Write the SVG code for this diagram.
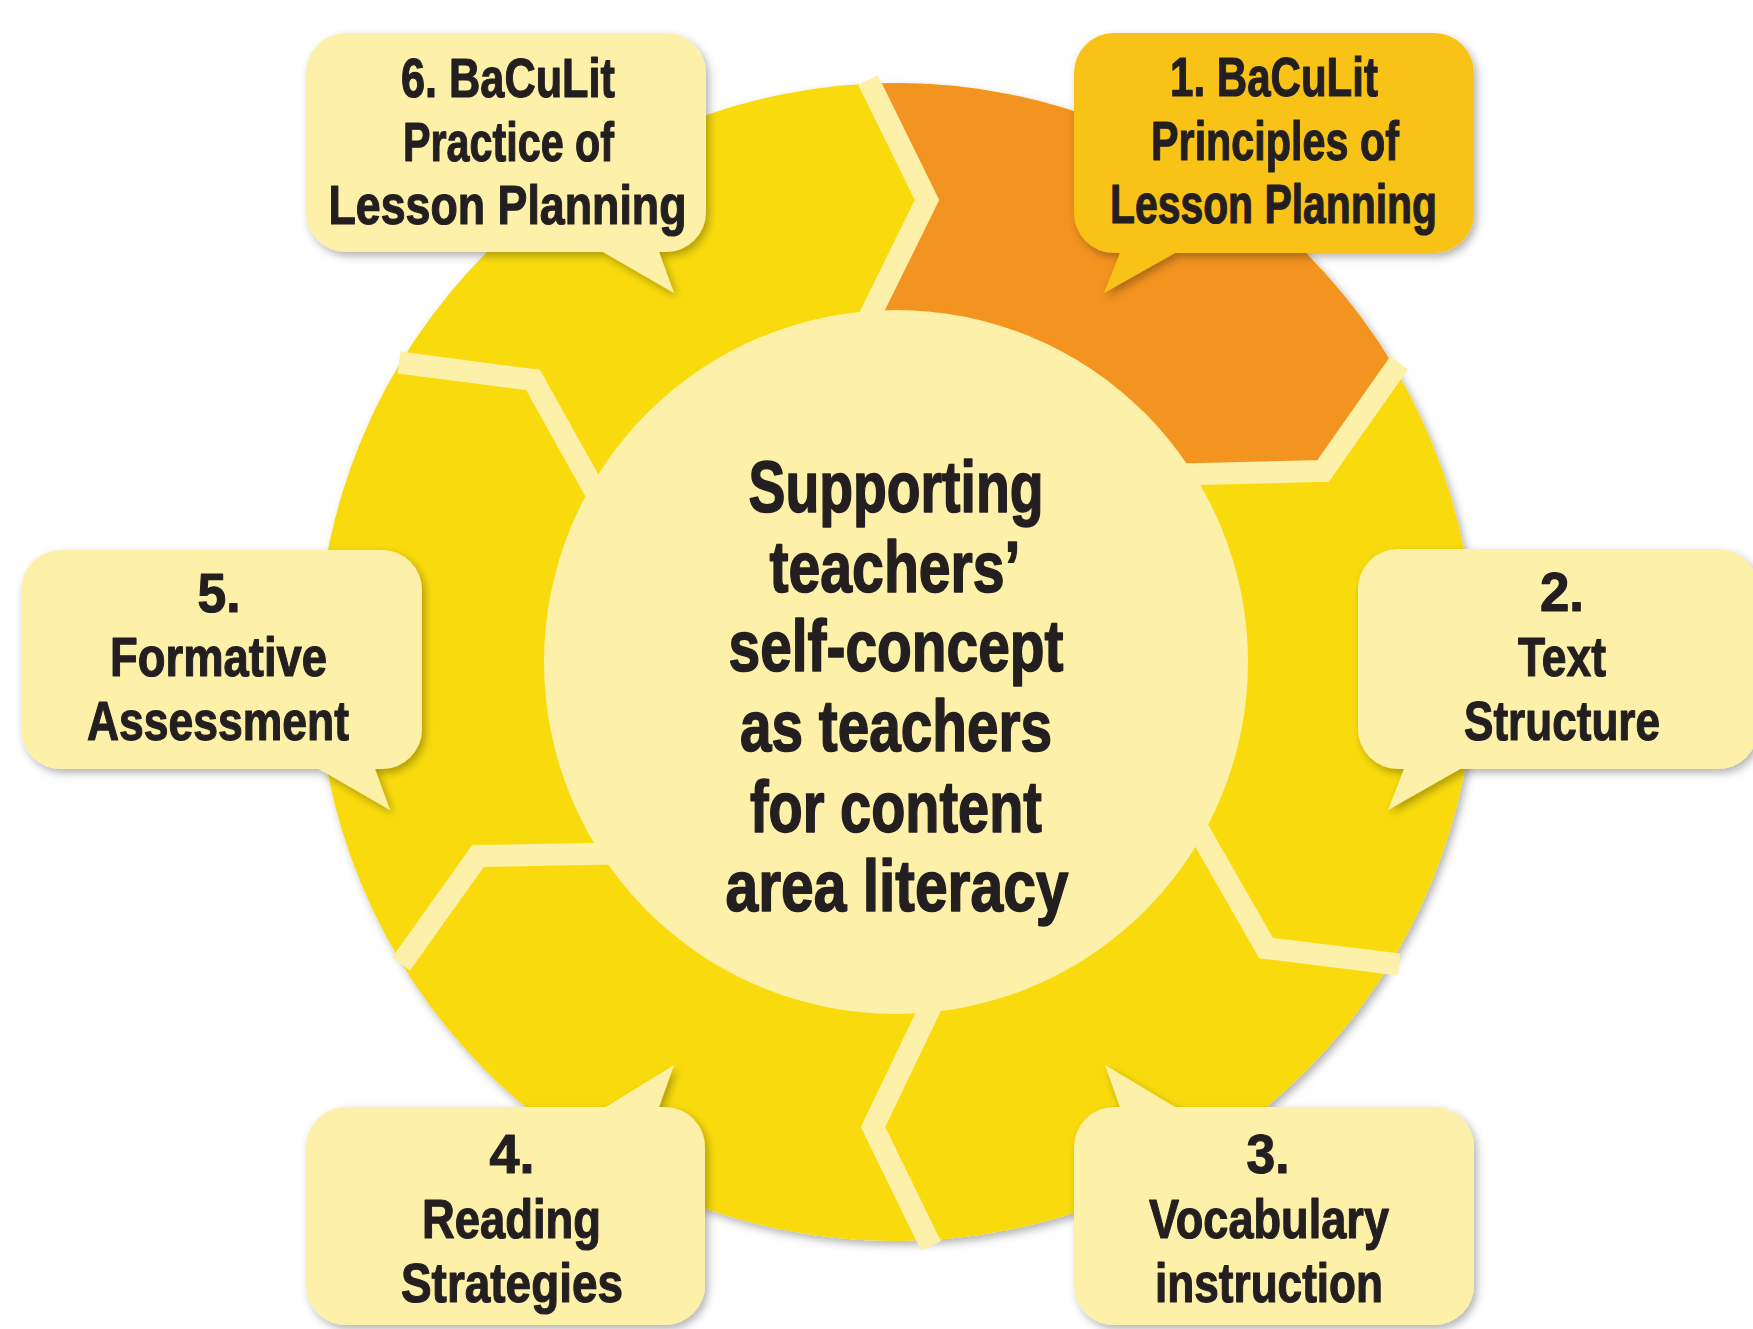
<svg xmlns="http://www.w3.org/2000/svg" width="1753" height="1329" viewBox="0 0 1753 1329">
<style>
.lt{fill:#FDF0A8}
.gold{fill:#F8C215}
.div{fill:none;stroke:#FDF0A8;stroke-width:22;stroke-linejoin:miter;stroke-linecap:butt}
text{font-family:"Liberation Sans",Arial,sans-serif;font-weight:bold;fill:#231F20;stroke:#231F20;stroke-linejoin:round;text-anchor:middle}
.b{font-size:56px;stroke-width:1.2px}
.c{font-size:72px;stroke-width:1.6px}
</style>
<defs>
<filter id="sh" x="-10%" y="-10%" width="125%" height="125%">
<feDropShadow dx="3" dy="4" stdDeviation="4" flood-color="#000" flood-opacity="0.3"/>
</filter>
<clipPath id="ring"><circle cx="896" cy="662" r="579"/></clipPath>
</defs>
<rect width="1753" height="1329" fill="#FFFFFF"/>
<g id="wheel">
<circle cx="896" cy="662" r="579" fill="#F9DB07" filter="url(#sh)"/>
<polygon id="segment1" clip-path="url(#ring)" fill="#F39320" points="896,662 856,344 927,200 870,84 826,-6 1500,-50 1455,285 1397,366 1323,471 1160,475"/>
<g id="dividers">
<polyline class="div" points="856,344 927,200 868,80"/>
<polyline class="div" points="1160,475 1323,471 1399,363"/>
<polyline class="div" points="1183,803 1266,948 1399,964.5"/>
<polyline class="div" points="945,977 873,1127 931,1246"/>
<polyline class="div" points="640,853 478,856 401,964"/>
<polyline class="div" points="610,518 533,380 399,362.5"/>
</g>
</g>
<g id="center">
<circle class="lt" cx="896" cy="662" r="352"/>
<text class="c" x="896" y="512" textLength="295" lengthAdjust="spacingAndGlyphs">Supporting</text>
<text class="c" x="895" y="591.5" textLength="251" lengthAdjust="spacingAndGlyphs">teachers’</text>
<text class="c" x="896" y="671" textLength="335" lengthAdjust="spacingAndGlyphs">self-concept</text>
<text class="c" x="896" y="751" textLength="312" lengthAdjust="spacingAndGlyphs">as teachers</text>
<text class="c" x="896" y="831.5" textLength="292" lengthAdjust="spacingAndGlyphs">for content</text>
<text class="c" x="897" y="910.5" textLength="343" lengthAdjust="spacingAndGlyphs">area literacy</text>
</g>
<g id="step1">
<path class="gold" filter="url(#sh)" d="M1114,33 H1434 A40,40 0 0 1 1474,73 V213 A40,40 0 0 1 1434,253 H1175 L1104,293 L1120,253 H1114 A40,40 0 0 1 1074,213 V73 A40,40 0 0 1 1114,33 Z"/>
<text class="b" x="1274" y="96" textLength="208" lengthAdjust="spacingAndGlyphs">1. BaCuLit</text>
<text class="b" x="1275" y="160" textLength="248" lengthAdjust="spacingAndGlyphs">Principles of</text>
<text class="b" x="1273.5" y="223" textLength="327" lengthAdjust="spacingAndGlyphs">Lesson Planning</text>
</g>
<g id="step2">
<path class="lt" filter="url(#sh)" d="M1398,549 H1718 A40,40 0 0 1 1758,589 V729 A40,40 0 0 1 1718,769 H1460 L1388,810 L1404,769 H1398 A40,40 0 0 1 1358,729 V589 A40,40 0 0 1 1398,549 Z"/>
<text class="b" x="1562" y="611" textLength="44" lengthAdjust="spacingAndGlyphs">2.</text>
<text class="b" x="1562" y="675.5" textLength="88" lengthAdjust="spacingAndGlyphs">Text</text>
<text class="b" x="1562" y="739.5" textLength="196" lengthAdjust="spacingAndGlyphs">Structure</text>
</g>
<g id="step3">
<path class="lt" filter="url(#sh)" d="M1114,1107 H1120 L1105,1065 L1175,1107 H1434 A40,40 0 0 1 1474,1147 V1285 A40,40 0 0 1 1434,1325 H1114 A40,40 0 0 1 1074,1285 V1147 A40,40 0 0 1 1114,1107 Z"/>
<text class="b" x="1268" y="1173" textLength="43" lengthAdjust="spacingAndGlyphs">3.</text>
<text class="b" x="1269" y="1237.5" textLength="240" lengthAdjust="spacingAndGlyphs">Vocabulary</text>
<text class="b" x="1269" y="1301.5" textLength="228" lengthAdjust="spacingAndGlyphs">instruction</text>
</g>
<g id="step4">
<path class="lt" filter="url(#sh)" d="M346,1107 H606 L674,1065 L659,1107 H665 A40,40 0 0 1 705,1147 V1285 A40,40 0 0 1 665,1325 H346 A40,40 0 0 1 306,1285 V1147 A40,40 0 0 1 346,1107 Z"/>
<text class="b" x="512" y="1173" textLength="45" lengthAdjust="spacingAndGlyphs">4.</text>
<text class="b" x="511.5" y="1237.5" textLength="179" lengthAdjust="spacingAndGlyphs">Reading</text>
<text class="b" x="512" y="1301.5" textLength="222" lengthAdjust="spacingAndGlyphs">Strategies</text>
</g>
<g id="step5">
<path class="lt" filter="url(#sh)" d="M61,550 H382 A40,40 0 0 1 422,590 V729 A40,40 0 0 1 382,769 H375 L390,810 L319,769 H61 A40,40 0 0 1 21,729 V590 A40,40 0 0 1 61,550 Z"/>
<text class="b" x="219" y="612" textLength="43" lengthAdjust="spacingAndGlyphs">5.</text>
<text class="b" x="218.5" y="675.5" textLength="217" lengthAdjust="spacingAndGlyphs">Formative</text>
<text class="b" x="218" y="739.5" textLength="262" lengthAdjust="spacingAndGlyphs">Assessment</text>
</g>
<g id="step6">
<path class="lt" filter="url(#sh)" d="M346,33 H666 A40,40 0 0 1 706,73 V212 A40,40 0 0 1 666,252 H659 L674,293 L603,252 H346 A40,40 0 0 1 306,212 V73 A40,40 0 0 1 346,33 Z"/>
<text class="b" x="508" y="96.5" textLength="214" lengthAdjust="spacingAndGlyphs">6. BaCuLit</text>
<text class="b" x="508.5" y="160.5" textLength="211" lengthAdjust="spacingAndGlyphs">Practice of</text>
<text class="b" x="507.5" y="224" textLength="358" lengthAdjust="spacingAndGlyphs">Lesson Planning</text>
</g>
</svg>
